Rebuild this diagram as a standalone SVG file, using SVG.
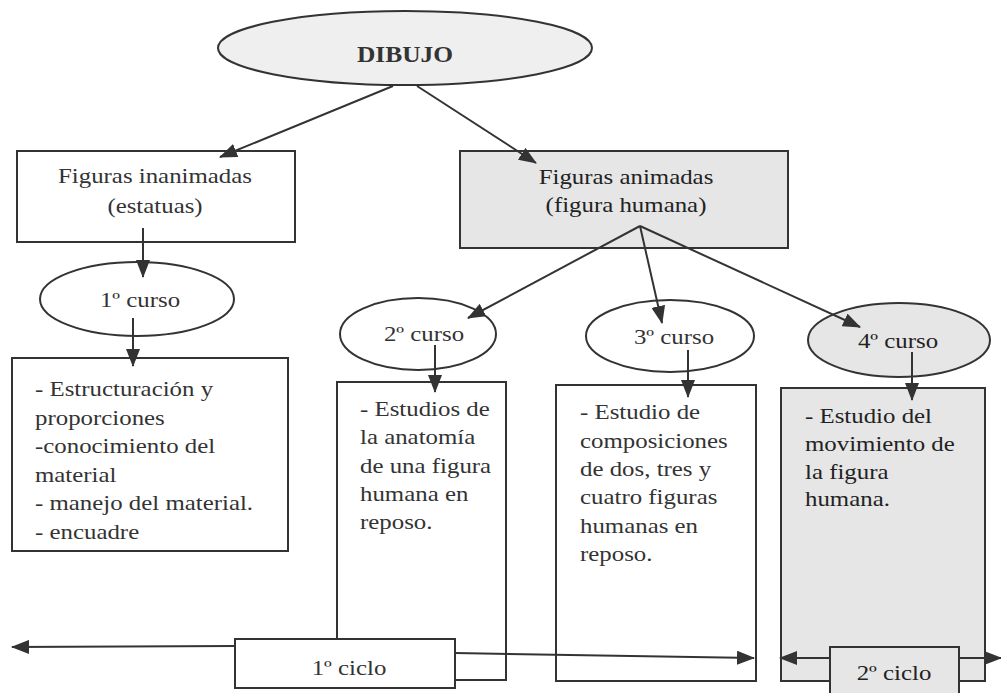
<svg xmlns="http://www.w3.org/2000/svg" width="1001" height="693" viewBox="0 0 1001 693">
<defs>
<marker id="ah" markerUnits="userSpaceOnUse" markerWidth="18" markerHeight="14" refX="17" refY="7" orient="auto">
<path d="M0,0 L18,7 L0,14 Z" fill="#333"/>
</marker>
<style>
.n{stroke:#333;stroke-width:2;fill:#fff}
.g{fill:#e6e6e6}
.e{fill:#efefef}
.c{stroke:#333;stroke-width:2;fill:none}
text{font-family:'Liberation Serif','DejaVu Serif',serif;font-size:22px;fill:#333}
.d{fill:#222}
.m{text-anchor:middle}
.b{font-weight:bold;font-size:24px}
</style>
</defs>
<rect width="1001" height="693" fill="#fff"/>

<g id="dibujo">
<ellipse class="n e" cx="405" cy="48" rx="187" ry="37"/>
<text class="m b" font-family="Liberation Serif, serif" transform="translate(405,62) scale(1.06,1)">DIBUJO</text>
</g>

<g id="inanimadas">
<rect class="n" x="17" y="151" width="278" height="91"/>
<text class="m" font-family="Liberation Serif, serif" transform="translate(155,183) scale(1.13,1)">Figuras inanimadas</text>
<text class="m" font-family="Liberation Serif, serif" transform="translate(155,213) scale(1.13,1)">(estatuas)</text>
</g>

<g id="animadas">
<rect class="n g" x="460" y="151" width="328" height="97"/>
<text class="m d" font-family="Liberation Serif, serif" transform="translate(626,184) scale(1.13,1)">Figuras animadas</text>
<text class="m d" font-family="Liberation Serif, serif" transform="translate(626,212) scale(1.13,1)">(figura humana)</text>
</g>

<g id="curso1">
<ellipse class="n" cx="137" cy="299" rx="97" ry="37"/>
<text class="m" font-family="Liberation Serif, serif" transform="translate(140,307) scale(1.13,1)">1º curso</text>
</g>

<g id="curso2">
<ellipse class="n" cx="418" cy="334" rx="78" ry="36"/>
<text class="m" font-family="Liberation Serif, serif" transform="translate(424,341) scale(1.13,1)">2º curso</text>
</g>

<g id="curso3">
<ellipse class="n" cx="670" cy="336" rx="84" ry="36"/>
<text class="m" font-family="Liberation Serif, serif" transform="translate(674,344) scale(1.13,1)">3º curso</text>
</g>

<g id="curso4">
<ellipse class="n g" cx="899" cy="340" rx="91" ry="37"/>
<text class="m d" font-family="Liberation Serif, serif" transform="translate(898,348) scale(1.13,1)">4º curso</text>
</g>

<g id="box1" font-family="Liberation Serif, serif">
<rect class="n" x="12" y="358" width="276" height="193"/>
<text font-family="Liberation Serif, serif" transform="translate(35,396) scale(1.13,1)">- Estructuración y</text>
<text font-family="Liberation Serif, serif" transform="translate(35,424.5) scale(1.13,1)">proporciones</text>
<text font-family="Liberation Serif, serif" transform="translate(35,453) scale(1.13,1)">-conocimiento del</text>
<text font-family="Liberation Serif, serif" transform="translate(35,481.5) scale(1.13,1)">material</text>
<text font-family="Liberation Serif, serif" transform="translate(35,510) scale(1.13,1)">- manejo del material.</text>
<text font-family="Liberation Serif, serif" transform="translate(35,538.5) scale(1.13,1)">- encuadre</text>
</g>

<g id="box2">
<rect class="n" x="337" y="382" width="169" height="298"/>
<text font-family="Liberation Serif, serif" transform="translate(360,416) scale(1.13,1)">- Estudios de</text>
<text font-family="Liberation Serif, serif" transform="translate(360,444) scale(1.13,1)">la anatomía</text>
<text font-family="Liberation Serif, serif" transform="translate(360,473) scale(1.13,1)">de una figura</text>
<text font-family="Liberation Serif, serif" transform="translate(360,501) scale(1.13,1)">humana en</text>
<text font-family="Liberation Serif, serif" transform="translate(360,529) scale(1.13,1)">reposo.</text>
</g>

<g id="box3">
<rect class="n" x="556" y="385" width="200" height="296"/>
<text font-family="Liberation Serif, serif" transform="translate(580,419) scale(1.13,1)">- Estudio de</text>
<text font-family="Liberation Serif, serif" transform="translate(580,448) scale(1.13,1)">composiciones</text>
<text font-family="Liberation Serif, serif" transform="translate(580,476) scale(1.13,1)">de dos, tres y</text>
<text font-family="Liberation Serif, serif" transform="translate(580,504) scale(1.13,1)">cuatro figuras</text>
<text font-family="Liberation Serif, serif" transform="translate(580,533) scale(1.13,1)">humanas en</text>
<text font-family="Liberation Serif, serif" transform="translate(580,561) scale(1.13,1)">reposo.</text>
</g>

<g id="box4">
<rect class="n g" x="781" y="388" width="204" height="293"/>
<text class="d" font-family="Liberation Serif, serif" transform="translate(805,423) scale(1.13,1)">- Estudio del</text>
<text class="d" font-family="Liberation Serif, serif" transform="translate(805,451) scale(1.13,1)">movimiento de</text>
<text class="d" font-family="Liberation Serif, serif" transform="translate(805,479) scale(1.13,1)">la figura</text>
<text class="d" font-family="Liberation Serif, serif" transform="translate(805,506) scale(1.13,1)">humana.</text>
</g>

<g id="connectors">
<line class="c" x1="393" y1="86" x2="220" y2="157" marker-end="url(#ah)"/>
<line class="c" x1="417" y1="86" x2="536" y2="163" marker-end="url(#ah)"/>
<line class="c" x1="143" y1="228" x2="143" y2="277" marker-end="url(#ah)"/>
<line class="c" x1="133" y1="318" x2="133" y2="366" marker-end="url(#ah)"/>
<line class="c" x1="640" y1="226" x2="468" y2="318" marker-end="url(#ah)"/>
<line class="c" x1="640" y1="226" x2="662" y2="323" marker-end="url(#ah)"/>
<line class="c" x1="640" y1="226" x2="860" y2="327" marker-end="url(#ah)"/>
<line class="c" x1="435" y1="345" x2="435" y2="392" marker-end="url(#ah)"/>
<line class="c" x1="688" y1="350" x2="688" y2="397" marker-end="url(#ah)"/>
<line class="c" x1="912" y1="352" x2="912" y2="400" marker-end="url(#ah)"/>
<line class="c" x1="235" y1="646" x2="12" y2="647" marker-end="url(#ah)"/>
<line class="c" x1="455" y1="653" x2="754" y2="658" marker-end="url(#ah)"/>
<line class="c" x1="830" y1="658" x2="780" y2="658" marker-end="url(#ah)"/>
<line class="c" x1="959" y1="658" x2="1001" y2="658" marker-end="url(#ah)"/>
</g>

<g id="ciclo1">
<rect class="n" x="235" y="639" width="220" height="49"/>
<text class="m" font-family="Liberation Serif, serif" transform="translate(349,675) scale(1.13,1)">1º ciclo</text>
</g>

<g id="ciclo2">
<rect class="n g" x="830" y="647" width="129" height="56"/>
<text class="m d" font-family="Liberation Serif, serif" transform="translate(894,680) scale(1.13,1)">2º ciclo</text>
</g>
</svg>
